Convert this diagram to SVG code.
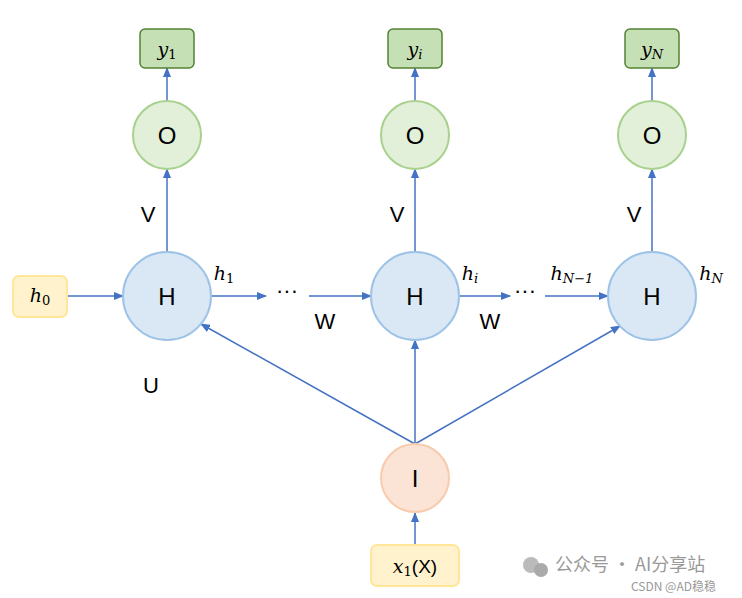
<svg xmlns="http://www.w3.org/2000/svg" width="742" height="598" viewBox="0 0 742 598">
<defs>
<marker id="a" markerWidth="10" markerHeight="8" refX="9" refY="4" orient="auto" markerUnits="userSpaceOnUse"><path d="M0,0L10,4L0,8z" fill="#4472C4"/></marker>
<style>
.l{stroke:#4472C4;stroke-width:1.5;fill:none;marker-end:url(#a)}
.H{fill:#DAE8F6;stroke:#9DC3E6;stroke-width:2}
.O{fill:#E2F0D9;stroke:#A9D18E;stroke-width:2}
.Y{fill:#C5E0B4;stroke:#548235;stroke-width:1.5}
.B{fill:#FFF2CC;stroke:#FFE699;stroke-width:2}
.t{font-family:"Liberation Sans",Arial,sans-serif;font-size:24px;fill:#000;text-anchor:middle}
.m{font-family:"DejaVu Serif","Liberation Serif",serif;font-style:italic;font-size:19px;fill:#000;text-anchor:middle}
.s{font-family:"Liberation Sans",Arial,sans-serif;font-size:22px;fill:#000;text-anchor:middle}
</style>
</defs>
<g id="connectors">
<path class="l" d="M67,296H123"/>
<path class="l" d="M211,296H266"/>
<path class="l" d="M309,296H371"/>
<path class="l" d="M459,296H510"/>
<path class="l" d="M545,296H608"/>
<path class="l" d="M415,444L201,324"/>
<path class="l" d="M415,444V340"/>
<path class="l" d="M415,444L620,326"/>
<path class="l" d="M415,545V513"/>
<path class="l" d="M167,252V169"/>
<path class="l" d="M415,252V169"/>
<path class="l" d="M652,252V169"/>
<path class="l" d="M167,101V68"/>
<path class="l" d="M415,101V68"/>
<path class="l" d="M652,101V68"/>
</g>
<g id="y1"><rect class="Y" x="140" y="29" width="54" height="39" rx="5"/><text class="m" x="167" y="56">y<tspan font-size="13" font-style="normal" dy="3">1</tspan></text></g>
<g id="yi"><rect class="Y" x="388" y="29" width="54" height="39" rx="5"/><text class="m" x="415" y="56">y<tspan font-size="13" dy="3">i</tspan></text></g>
<g id="yN"><rect class="Y" x="625" y="29" width="54" height="39" rx="5"/><text class="m" x="652" y="56">y<tspan font-size="13" dy="3">N</tspan></text></g>
<g id="O1"><circle class="O" cx="167" cy="135" r="34"/><text class="t" x="167" y="144">O</text></g>
<g id="Oi"><circle class="O" cx="415" cy="135" r="34"/><text class="t" x="415" y="144">O</text></g>
<g id="ON"><circle class="O" cx="652" cy="135" r="34"/><text class="t" x="652" y="144">O</text></g>
<g id="H1"><circle class="H" cx="167" cy="296" r="44"/><text class="t" x="167" y="305">H</text></g>
<g id="Hi"><circle class="H" cx="415" cy="296" r="44"/><text class="t" x="415" y="305">H</text></g>
<g id="HN"><circle class="H" cx="652" cy="296" r="44"/><text class="t" x="652" y="305">H</text></g>
<g id="h0"><rect class="B" x="13" y="276" width="54" height="41" rx="6"/><text class="m" x="40" y="302">h<tspan font-size="13" font-style="normal" dy="3">0</tspan></text></g>
<g id="I"><circle cx="415" cy="478" r="34" fill="#FBE3D6" stroke="#F8CBAD" stroke-width="2"/><text class="t" x="415" y="487">I</text></g>
<g id="x1"><rect class="B" x="371" y="545" width="88" height="41" rx="6"/><text class="m" x="415" y="573">x<tspan font-size="13" font-style="normal" dy="3">1</tspan><tspan font-style="normal" font-family="Liberation Sans,sans-serif" dy="-3">(X)</tspan></text></g>
<g id="labels">
<text class="s" x="148" y="222">V</text><text class="s" x="397" y="222">V</text><text class="s" x="634" y="222">V</text>
<text class="s" x="325" y="329">W</text><text class="s" x="490" y="329">W</text>
<text class="s" x="151" y="393">U</text>
<text class="s" x="287" y="298">···</text><text class="s" x="525" y="298">···</text>
<text class="m" x="224" y="280">h<tspan font-size="13" font-style="normal" dy="3">1</tspan></text>
<text class="m" x="470" y="280">h<tspan font-size="13" dy="3">i</tspan></text>
<text class="m" x="572" y="280">h<tspan font-size="13" dy="3">N−1</tspan></text>
<text class="m" x="711" y="280">h<tspan font-size="13" dy="3">N</tspan></text>
</g>
<g id="watermark" font-family="'Noto Sans CJK SC',sans-serif" fill="#999">
<circle cx="531" cy="565" r="8" fill="#bbb"/><circle cx="541" cy="570" r="7" fill="#aaa"/>
<text x="555" y="571" font-size="18">公众号 · AI分享站</text>
<text x="631" y="591" font-size="12">CSDN @AD稳稳</text>
</g>
</svg>
